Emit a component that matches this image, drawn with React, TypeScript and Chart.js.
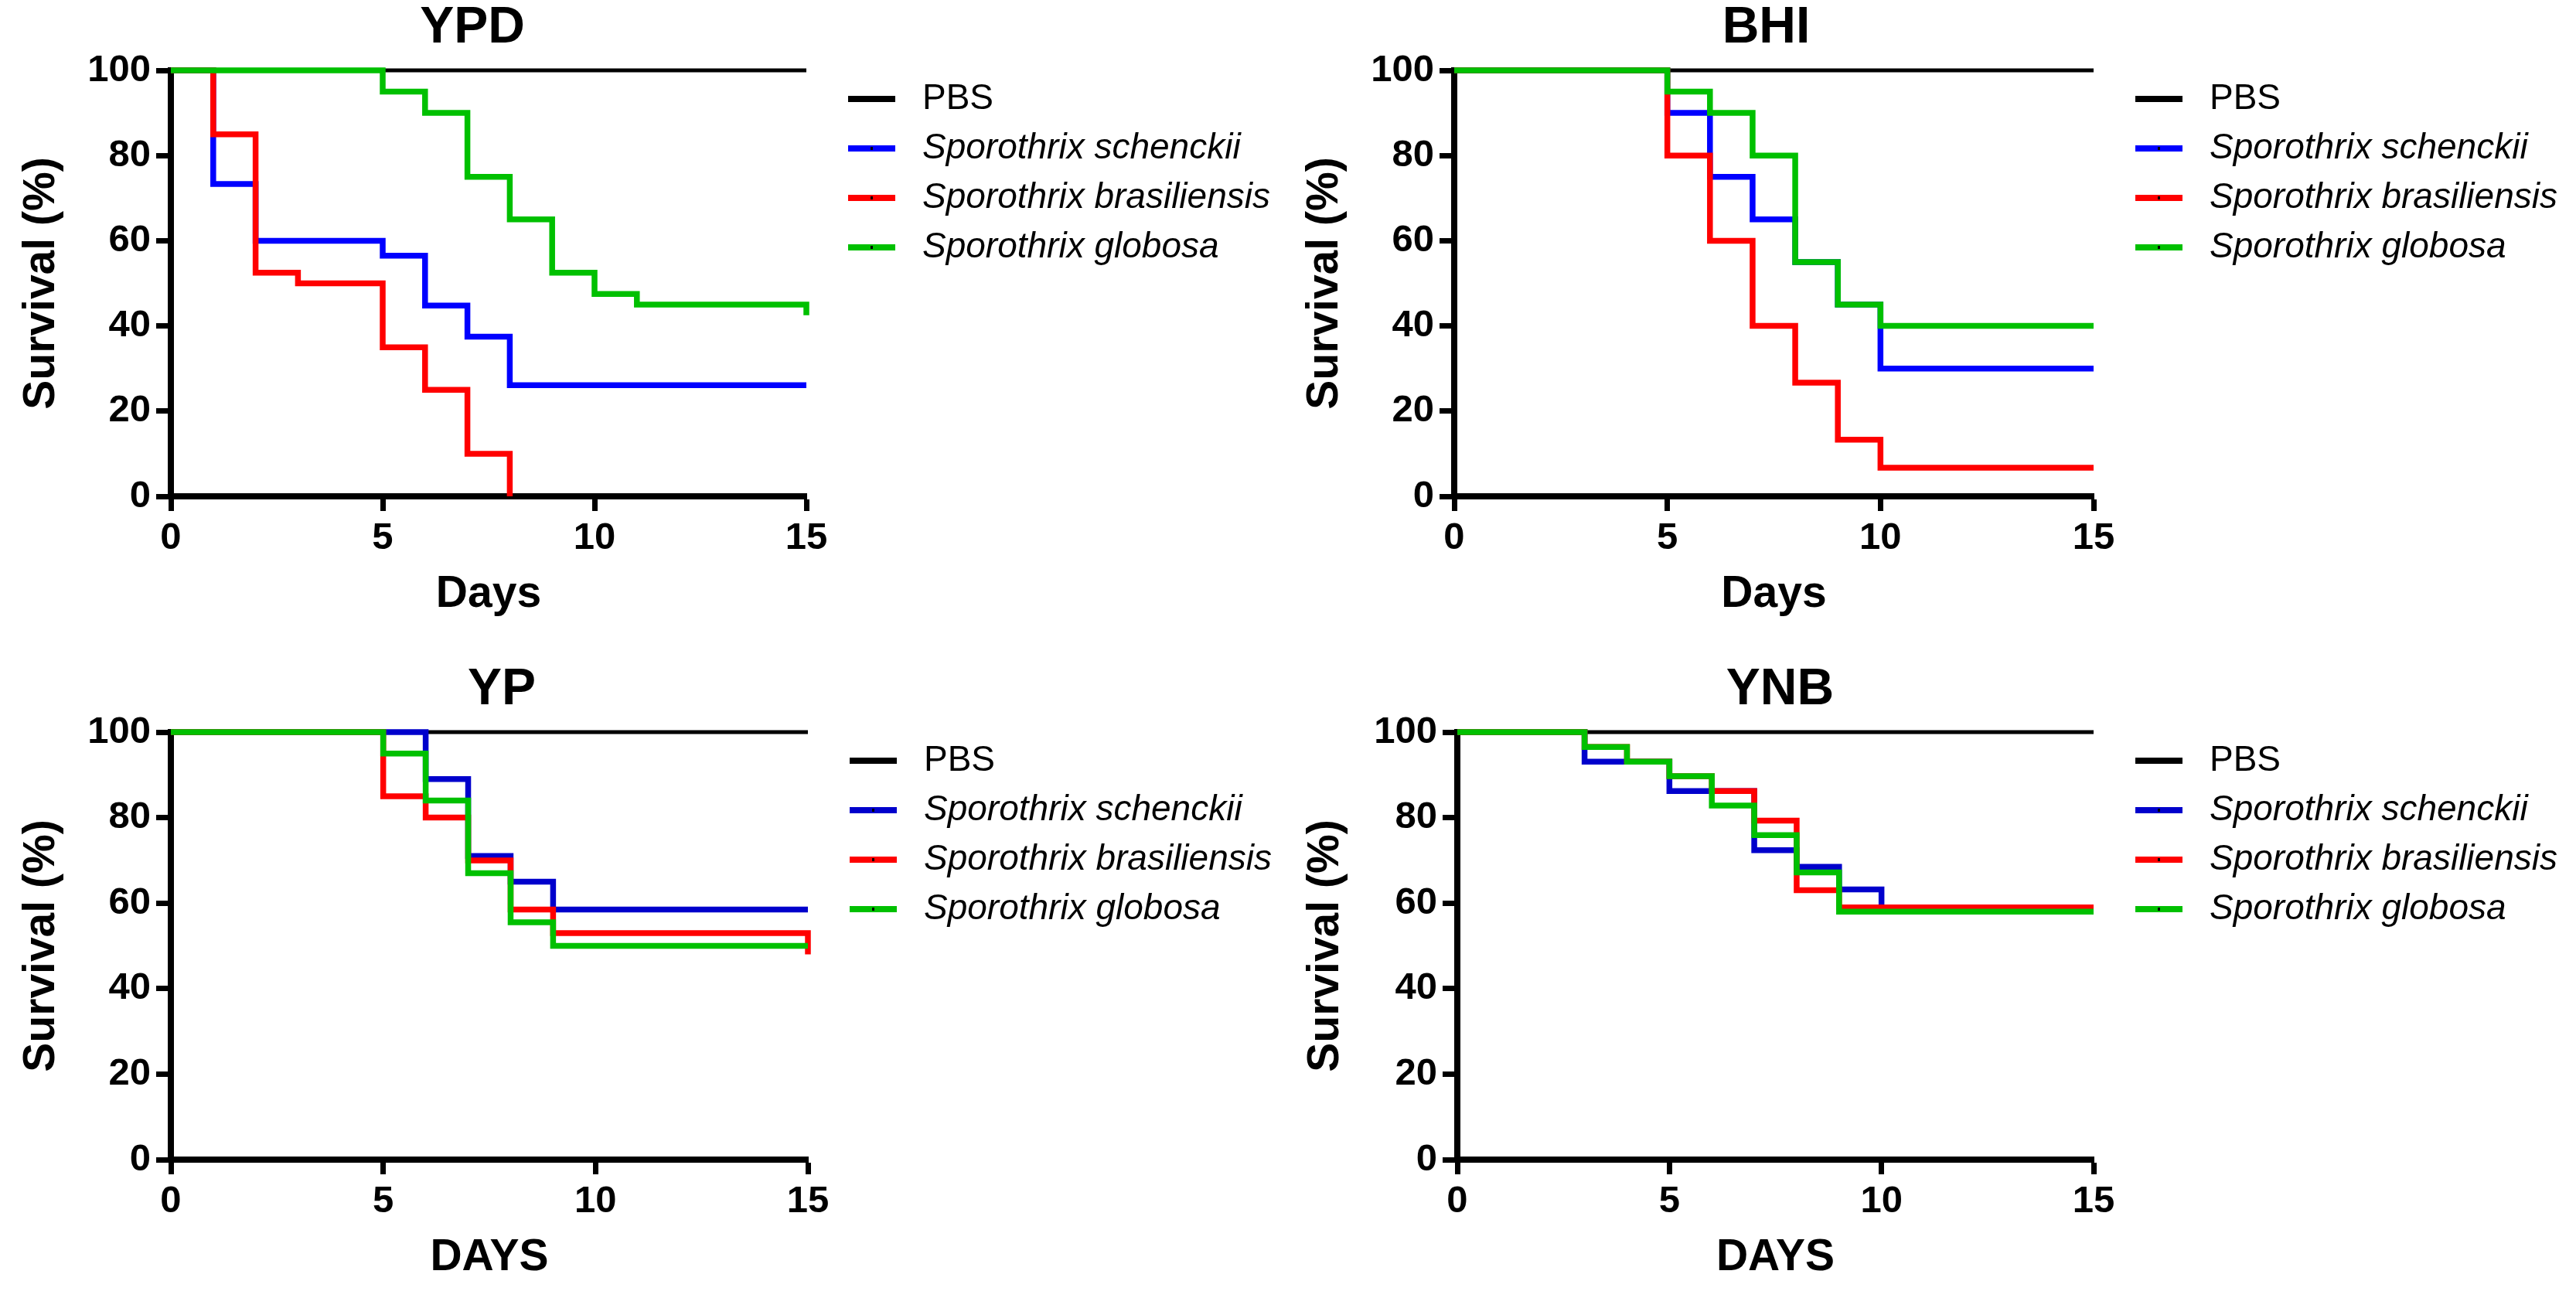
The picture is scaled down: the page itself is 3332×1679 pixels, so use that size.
import React, { useEffect, useRef } from 'react';
import { Chart, registerables } from 'chart.js';

Chart.register(...registerables);

const FONT = 'Arial, "Liberation Sans", Helvetica, sans-serif';

// ---- legend / series names ----
const seriesNames = ['PBS', 'Sporothrix schenckii', 'Sporothrix brasiliensis', 'Sporothrix globosa'];
const xTickStep = 5;
const yTickStep = 20;

// ---- YPD ----
const ypdPbsDays = [0, 15];
const ypdPbsSurv = [100, 100];
const ypdSchenckiiDays = [0, 1, 2, 5, 6, 7, 8, 15];
const ypdSchenckiiSurv = [100, 73.3, 60, 56.5, 44.8, 37.5, 26.1, 26.1];
const ypdBrasDays = [0, 1, 2, 3, 5, 6, 7, 8];
const ypdBrasSurv = [100, 85, 52.5, 50, 35, 25, 10, 0];
const ypdGlobosaDays = [0, 5, 6, 7, 8, 9, 10, 11, 15];
const ypdGlobosaSurv = [100, 95, 90, 75, 65, 52.5, 47.5, 45, 42.5];

// ---- BHI ----
const bhiPbsDays = [0, 15];
const bhiPbsSurv = [100, 100];
const bhiSchenckiiDays = [0, 5, 6, 7, 8, 9, 10, 15];
const bhiSchenckiiSurv = [100, 90, 75, 65, 55, 45, 30, 30];
const bhiBrasDays = [0, 5, 6, 7, 8, 9, 10, 15];
const bhiBrasSurv = [100, 80, 60, 40, 26.7, 13.3, 6.7, 6.7];
const bhiGlobosaDays = [0, 5, 6, 7, 8, 9, 10, 15];
const bhiGlobosaSurv = [100, 95, 90, 80, 55, 45, 40, 40];

// ---- YP ----
const ypPbsDays = [0, 15];
const ypPbsSurv = [100, 100];
const ypSchenckiiDays = [0, 6, 7, 8, 9, 15];
const ypSchenckiiSurv = [100, 89, 71, 65, 58.5, 58.5];
const ypBrasDays = [0, 5, 6, 7, 8, 9, 15];
const ypBrasSurv = [100, 85, 80, 70, 58.5, 53, 48];
const ypGlobosaDays = [0, 5, 6, 7, 8, 9, 15];
const ypGlobosaSurv = [100, 95, 84, 67, 55.5, 50, 50];

// ---- YNB ----
const ynbPbsDays = [0, 15];
const ynbPbsSurv = [100, 100];
const ynbSchenckiiDays = [0, 3, 5, 7, 8, 9, 10, 15];
const ynbSchenckiiSurv = [100, 93.1, 86.2, 72.4, 68.5, 63.2, 59, 59];
const ynbBrasDays = [0, 3, 4, 5, 6, 7, 8, 9, 15];
const ynbBrasSurv = [100, 96.5, 93.1, 89.7, 86.2, 79.3, 63, 59, 59];
const ynbGlobosaDays = [0, 3, 4, 5, 6, 7, 8, 9, 15];
const ynbGlobosaSurv = [100, 96.5, 93.1, 89.7, 82.8, 75.9, 67.2, 58, 58];

type Series = { days: number[]; surv: number[] };

type PanelDef = {
  title: string;
  xTitle: string;
  left: number;
  top: number;
  width: number;
  height: number;
  pad: { left: number; top: number; right: number; bottom: number };
  yWidth: number;
  xHeight: number;
  titleDx: number;
  colors: string[];
  series: Series[];
};

const TOP_COLORS = ['#000000', '#0000FF', '#FF0000', '#00C000'];
const BOTTOM_COLORS = ['#000000', '#0000CC', '#FF0000', '#00C000'];

const panels: PanelDef[] = [
  {
    title: 'YPD', xTitle: 'Days', left: 0, top: 0, width: 1660, height: 840,
    pad: { left: 26, top: 91, right: 617, bottom: 42 }, yWidth: 195, xHeight: 156, titleDx: -21,
    colors: TOP_COLORS,
    series: [
      { days: ypdPbsDays, surv: ypdPbsSurv },
      { days: ypdSchenckiiDays, surv: ypdSchenckiiSurv },
      { days: ypdBrasDays, surv: ypdBrasSurv },
      { days: ypdGlobosaDays, surv: ypdGlobosaSurv },
    ],
  },
  {
    title: 'BHI', xTitle: 'Days', left: 1660, top: 0, width: 1672, height: 840,
    pad: { left: 26, top: 91, right: 624, bottom: 42 }, yWidth: 195, xHeight: 156, titleDx: -10,
    colors: TOP_COLORS,
    series: [
      { days: bhiPbsDays, surv: bhiPbsSurv },
      { days: bhiSchenckiiDays, surv: bhiSchenckiiSurv },
      { days: bhiBrasDays, surv: bhiBrasSurv },
      { days: bhiGlobosaDays, surv: bhiGlobosaSurv },
    ],
  },
  {
    title: 'YP', xTitle: 'DAYS', left: 0, top: 840, width: 1660, height: 839,
    pad: { left: 26, top: 107, right: 615, bottom: 23 }, yWidth: 195, xHeight: 156, titleDx: 16,
    colors: BOTTOM_COLORS,
    series: [
      { days: ypPbsDays, surv: ypPbsSurv },
      { days: ypSchenckiiDays, surv: ypSchenckiiSurv },
      { days: ypBrasDays, surv: ypBrasSurv },
      { days: ypGlobosaDays, surv: ypGlobosaSurv },
    ],
  },
  {
    title: 'YNB', xTitle: 'DAYS', left: 1660, top: 840, width: 1672, height: 839,
    pad: { left: 27, top: 107, right: 624, bottom: 23 }, yWidth: 198, xHeight: 156, titleDx: 6,
    colors: BOTTOM_COLORS,
    series: [
      { days: ynbPbsDays, surv: ynbPbsSurv },
      { days: ynbSchenckiiDays, surv: ynbSchenckiiSurv },
      { days: ynbBrasDays, surv: ynbBrasSurv },
      { days: ynbGlobosaDays, surv: ynbGlobosaSurv },
    ],
  },
];

function decorPlugin(p: PanelDef) {
  return {
    id: 'decor',
    afterDraw(chart: any) {
      const { ctx, chartArea } = chart;
      ctx.save();
      ctx.fillStyle = '#000';
      ctx.textAlign = 'center';
      ctx.textBaseline = 'middle';
      ctx.font = `bold 66px ${FONT}`;
      ctx.fillText(p.title, (chartArea.left + chartArea.right) / 2 + p.titleDx, chartArea.top - 54.5);

      seriesNames.forEach((name, i) => {
        const y = chartArea.top + 37 + i * 64;
        const x0 = chartArea.right + 54;
        ctx.strokeStyle = p.colors[i];
        ctx.lineWidth = 8;
        ctx.lineCap = 'butt';
        ctx.beginPath();
        ctx.moveTo(x0, y);
        ctx.lineTo(x0 + 61, y);
        ctx.stroke();
        if (i > 0) {
          ctx.fillStyle = '#000';
          ctx.fillRect(x0 + 29, y - 2, 3, 4);
        }
        ctx.fillStyle = '#000';
        ctx.textAlign = 'left';
        ctx.textBaseline = 'middle';
        ctx.font = `${i === 0 ? '' : 'italic '}46px ${FONT}`;
        ctx.fillText(name, chartArea.right + 150, y);
      });
      ctx.restore();
    },
  };
}

function Panel({ p }: { p: PanelDef }) {
  const ref = useRef<HTMLCanvasElement | null>(null);

  useEffect(() => {
    if (!ref.current) return;
    const widths = [5, 7.5, 7.5, 7.5];
    const orders = [3, 2, 1, 0];
    const datasets = p.series.map((s, i) => ({
      label: seriesNames[i],
      data: s.days.map((d, j) => ({ x: d, y: s.surv[j] })),
      borderColor: p.colors[i],
      backgroundColor: p.colors[i],
      borderWidth: widths[i],
      stepped: 'before' as const,
      pointRadius: 0,
      fill: false,
      order: orders[i],
      borderCapStyle: 'butt' as const,
      borderJoinStyle: 'miter' as const,
      clip: false as const,
    }));

    const tickFont = { size: 49, weight: 'bold' as const, family: FONT };
    const grid = {
      drawOnChartArea: false,
      drawTicks: true,
      tickLength: 19,
      tickWidth: 7,
      tickColor: '#000',
      color: '#000',
    };
    const border = { display: true, color: '#000', width: 8 };

    const chart = new Chart(ref.current, {
      type: 'line',
      data: { datasets: datasets as any },
      options: {
        responsive: false,
        animation: false,
        events: [],
        layout: { padding: p.pad },
        plugins: {
          legend: { display: false },
          tooltip: { enabled: false },
          title: { display: false },
        },
        scales: {
          x: {
            type: 'linear',
            min: 0,
            max: 15,
            afterFit: (s: any) => { s.height = p.xHeight; },
            ticks: { stepSize: xTickStep, font: tickFont, color: '#000', padding: 6, maxRotation: 0, autoSkip: false },
            grid,
            border,
            title: {
              display: true,
              text: p.xTitle,
              color: '#000',
              padding: 0,
              font: { size: 57, weight: 'bold', family: FONT, lineHeight: 1 },
            },
          },
          y: {
            type: 'linear',
            min: 0,
            max: 100,
            afterFit: (s: any) => { s.width = p.yWidth; },
            ticks: { stepSize: yTickStep, font: tickFont, color: '#000', padding: 7 },
            grid,
            border,
            title: {
              display: true,
              text: 'Survival (%)',
              color: '#000',
              padding: 0,
              font: { size: 57, weight: 'bold', family: FONT, lineHeight: 1 },
            },
          },
        },
      } as any,
      plugins: [decorPlugin(p)],
    });
    return () => chart.destroy();
  }, [p]);

  return (
    <canvas
      ref={ref}
      width={p.width}
      height={p.height}
      style={{ position: 'absolute', left: p.left, top: p.top, width: p.width, height: p.height, display: 'block' }}
    />
  );
}

export default function App() {
  useEffect(() => {
    document.body.style.margin = '0';
    document.body.style.background = '#fff';
  }, []);
  return (
    <div style={{ position: 'absolute', left: 0, top: 0, width: 3332, height: 1679, background: '#fff', overflow: 'hidden' }}>
      {panels.map((p) => (
        <Panel key={p.title} p={p} />
      ))}
    </div>
  );
}
